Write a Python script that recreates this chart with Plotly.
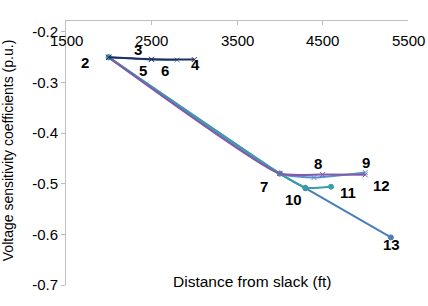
import plotly.graph_objects as go

# Series data (distance from slack in ft, voltage sensitivity coefficient in p.u.)
s1_x = [2000, 2500, 3000]
s1_y = [-0.2506, -0.2545, -0.2550]
s2_x = [2000, 2500, 2800]
s2_y = [-0.2506, -0.2548, -0.2560]
s3_x = [2000, 4000, 4500, 5000]
s3_y = [-0.2506, -0.4800, -0.4820, -0.4825]
s4_x = [2000, 4000, 4400, 5000]
s4_y = [-0.2506, -0.4800, -0.4880, -0.4780]
s5_x = [2000, 4000, 4300, 4600]
s5_y = [-0.2506, -0.4800, -0.5080, -0.5060]
s6_x = [2000, 4000, 4300, 5300]
s6_y = [-0.2506, -0.4800, -0.5090, -0.6060]

node_labels = ["2", "3", "4", "5", "6", "7", "8", "9", "10", "11", "12", "13"]
label_x = [1721, 2339, 3015, 2397, 2654, 3819, 4449, 5008, 4157, 4798, 5195, 5311]
label_y = [-0.260, -0.236, -0.264, -0.2757, -0.2757, -0.505, -0.460, -0.458, -0.531, -0.517, -0.503, -0.620]

x_ticks = [1500, 2500, 3500, 4500, 5500]
y_ticks = [-0.7, -0.6, -0.5, -0.4, -0.3, -0.2]

FONT = "Liberation Sans, Arial"

series = [
    (s6_x, s6_y, "#4A7EBB", "circle"),
    (s5_x, s5_y, "#3A9DA8", "circle"),
    (s4_x, s4_y, "#5B8FD0", "x-thin-open"),
    (s3_x, s3_y, "#7E5CA6", "x-thin-open"),
    (s2_x, s2_y, "#5B9BD5", "x-thin-open"),
    (s1_x, s1_y, "#1F2F5F", "x-thin-open"),
]

fig = go.Figure()
for xs, ys, col, sym in series:
    fig.add_trace(go.Scatter(
        x=xs, y=ys, mode="lines+markers",
        line=dict(color=col, width=2, shape="spline", smoothing=0.5),
        marker=dict(symbol=sym, size=5, color=col, line=dict(color=col, width=1)),
        showlegend=False, hoverinfo="skip",
    ))

for t, lx, ly in zip(node_labels, label_x, label_y):
    fig.add_annotation(x=lx, y=ly, text="<b>%s</b>" % t, showarrow=False,
                       font=dict(family=FONT, size=15, color="black"))

# x tick labels drawn just below the top axis line
for v in x_ticks:
    fig.add_annotation(x=v, y=0.928, xref="x", yref="paper", text=str(v), showarrow=False,
                       xanchor="center", yanchor="middle",
                       font=dict(family=FONT, size=15, color="black"))

fig.add_annotation(x=0.544, y=0.015, xref="paper", yref="paper", text="Distance from slack (ft)",
                   showarrow=False, xanchor="center", yanchor="middle",
                   font=dict(family=FONT, size=15.5, color="black"))
fig.add_annotation(x=-0.17, y=0.51, xref="paper", yref="paper", text="Voltage sensitivity coefficients (p.u.)",
                   showarrow=False, textangle=-90, xanchor="center", yanchor="middle",
                   font=dict(family=FONT, size=14, color="black"))

fig.update_xaxes(range=[1500, 5500], side="top", tickvals=x_ticks, showticklabels=False,
                 showline=True, linecolor="#BFBFBF", linewidth=1, ticks="inside", ticklen=4,
                 tickcolor="#BFBFBF", showgrid=False, zeroline=False, automargin=False)
fig.update_yaxes(range=[-0.7, -0.1789], tickvals=y_ticks, ticktext=["%.1f" % v for v in y_ticks],
                 showline=True, linecolor="#BFBFBF", linewidth=1, ticks="outside", ticklen=4,
                 tickcolor="#BFBFBF", showgrid=False, zeroline=False, automargin=False,
                 tickfont=dict(family=FONT, size=15, color="black"))

fig.update_layout(width=428, height=306, margin=dict(l=66, r=20, t=21, b=21),
                  plot_bgcolor="white", paper_bgcolor="white")
fig.write_html("out.html", config={"displayModeBar": False},
               post_script="document.body.style.margin='0px';")
